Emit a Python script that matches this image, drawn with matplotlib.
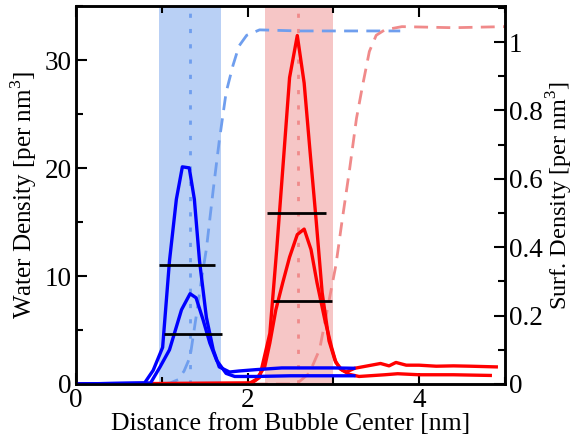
import numpy as np
import matplotlib
matplotlib.use("Agg")
import matplotlib.pyplot as plt
from matplotlib.ticker import MultipleLocator

plt.rcParams['font.family'] = ['Liberation Serif', 'DejaVu Serif']
plt.rcParams['mathtext.fontset'] = 'custom'
plt.rcParams['mathtext.rm'] = 'Liberation Serif'

# water density profiles (left axis, per nm^3)
water_blue_x = [0, 1.0, 1.1, 1.19, 1.26, 1.33, 1.40, 1.46, 1.52, 1.60, 1.67, 1.75, 1.83, 1.90, 1.99, 2.14, 2.6, 3.0, 3.4, 3.78]
water_blue_y = [0, 0.0, 0.1, 0.4, 1.2, 2.5, 6.2, 9.5, 12.5, 18.0, 22.5, 27.0, 29.5, 31.3, 32.3, 32.8, 32.7, 32.7, 32.7, 32.7]
water_red_x = [0, 2.5, 2.6, 2.72, 2.84, 2.93, 3.03, 3.10, 3.19, 3.27, 3.34, 3.42, 3.50, 3.60, 3.80, 4.4, 5.0]
water_red_y = [0, 0.0, 0.2, 1.0, 3.2, 6.9, 11.0, 15.0, 19.9, 24.6, 27.6, 30.8, 32.3, 32.8, 33.1, 33.0, 33.1]

# surfactant density profiles (right axis, per nm^3)
surf_blue1_x = [0, 0.8, 0.9, 1.01, 1.09, 1.17, 1.24, 1.32, 1.38, 1.44, 1.52, 1.60, 1.67, 1.79, 1.90, 2.1, 2.4, 2.7, 3.0, 3.24]
surf_blue1_y = [0, 0.003, 0.04, 0.107, 0.36, 0.54, 0.635, 0.632, 0.54, 0.36, 0.195, 0.10, 0.05, 0.035, 0.038, 0.042, 0.047, 0.047, 0.047, 0.046]
surf_blue2_x = [0, 0.87, 0.98, 1.09, 1.23, 1.33, 1.40, 1.48, 1.56, 1.64, 1.75, 1.85, 2.1, 2.5, 3.0, 3.24]
surf_blue2_y = [0, 0.003, 0.05, 0.10, 0.217, 0.264, 0.252, 0.189, 0.12, 0.069, 0.031, 0.022, 0.022, 0.024, 0.024, 0.024]
surf_red1_x = [0, 2.05, 2.14, 2.26, 2.34, 2.42, 2.49, 2.58, 2.66, 2.73, 2.80, 2.87, 2.95, 3.02, 3.08, 3.15, 3.25, 3.4, 3.55, 3.65, 3.73, 3.85, 4.0, 4.2, 4.4, 4.6, 4.9]
surf_red1_y = [0, 0.003, 0.019, 0.148, 0.393, 0.66, 0.896, 1.019, 0.88, 0.676, 0.478, 0.267, 0.126, 0.069, 0.044, 0.035, 0.046, 0.053, 0.06, 0.053, 0.063, 0.055, 0.055, 0.052, 0.053, 0.052, 0.05]
surf_red2_x = [0, 2.02, 2.10, 2.20, 2.26, 2.33, 2.41, 2.49, 2.58, 2.66, 2.74, 2.81, 2.90, 2.98, 3.03, 3.10, 3.19, 3.3, 3.6, 3.75, 4.0, 4.4, 4.83]
surf_red2_y = [0, 0.002, 0.013, 0.05, 0.12, 0.217, 0.296, 0.371, 0.437, 0.453, 0.393, 0.296, 0.189, 0.107, 0.063, 0.041, 0.028, 0.022, 0.027, 0.03, 0.027, 0.027, 0.025]

# half-maximum widths of each surfactant peak
hm_level = [0.349, 0.146, 0.50, 0.242]
hm_start = [0.97, 1.03, 2.23, 2.30]
hm_end = [1.62, 1.70, 2.92, 2.99]

# interface regions and peak centres
shell_blue = (0.97, 1.69)
shell_red = (2.20, 3.00)
center_blue = 1.33
center_red = 2.59
baseline_x = [0, 2.2]

light_blue = '#6f9eee'
light_red = '#f08a8a'

fig = plt.figure(figsize=(5.77, 4.37), dpi=100)
ax = fig.add_axes([0.1317, 0.1213, 0.7433, 0.8647])
ax2 = ax.twinx()

ax.axvspan(*shell_blue, color='#b9d0f5', lw=0, zorder=0)
ax.axvspan(*shell_red, color='#f6c6c6', lw=0, zorder=0)
ax.axvline(center_blue, color=light_blue, ls=(0, (1.5, 4)), lw=2)
ax.axvline(center_red, color=light_red, ls=(0, (1.5, 4)), lw=2)

ax.plot(baseline_x, [0, 0], color='k', ls=(0, (4, 4)), lw=2)
ax.plot(water_blue_x, water_blue_y, color=light_blue, ls=(0, (5, 3)), lw=2)
ax.plot(water_red_x, water_red_y, color=light_red, ls=(0, (5, 3)), lw=2)

ax2.plot(surf_red1_x, surf_red1_y, color='#ff0000', lw=2.4)
ax2.plot(surf_red2_x, surf_red2_y, color='#ff0000', lw=2.4)
ax2.plot(surf_blue1_x, surf_blue1_y, color='#0000ff', lw=2.4)
ax2.plot(surf_blue2_x, surf_blue2_y, color='#0000ff', lw=2.4)
ax2.hlines(hm_level, hm_start, hm_end, color='k', lw=2)

ax.set_xlim(0, 5)
ax.set_ylim(0, 35)
ax2.set_ylim(0, 1.105)

ax.xaxis.set_major_locator(MultipleLocator(2))
ax.xaxis.set_minor_locator(MultipleLocator(1))
ax.yaxis.set_major_locator(MultipleLocator(10))
ax.yaxis.set_minor_locator(MultipleLocator(5))
ax2.yaxis.set_minor_locator(MultipleLocator(0.1))
ax2.set_yticks([0, 0.2, 0.4, 0.6, 0.8, 1.0])
ax2.set_yticklabels(['0', '0.2', '0.4', '0.6', '0.8', '1'])

ax.tick_params(which='both', direction='in', top=True, labelsize=19.5, width=1.5, pad=3)
ax.tick_params(which='major', length=8)
ax.tick_params(which='minor', length=5)
ax2.tick_params(which='both', direction='in', labelsize=19.5, width=1.5, pad=3)
ax2.tick_params(which='major', length=8)
ax2.tick_params(which='minor', length=5)
for a in (ax, ax2):
    for s in a.spines.values():
        s.set_linewidth(1.8)

ax.set_xlabel('Distance from Bubble Center [nm]', fontsize=18.5, labelpad=0)
ax.set_ylabel('Water Density [per nm$^3$]', fontsize=18, labelpad=4)
ax2.set_ylabel('Surf. Density [per nm$^3$]', fontsize=17.5)
ax2.yaxis.set_label_coords(1.092, 0.5)

fig.savefig('out.png', dpi=100)
